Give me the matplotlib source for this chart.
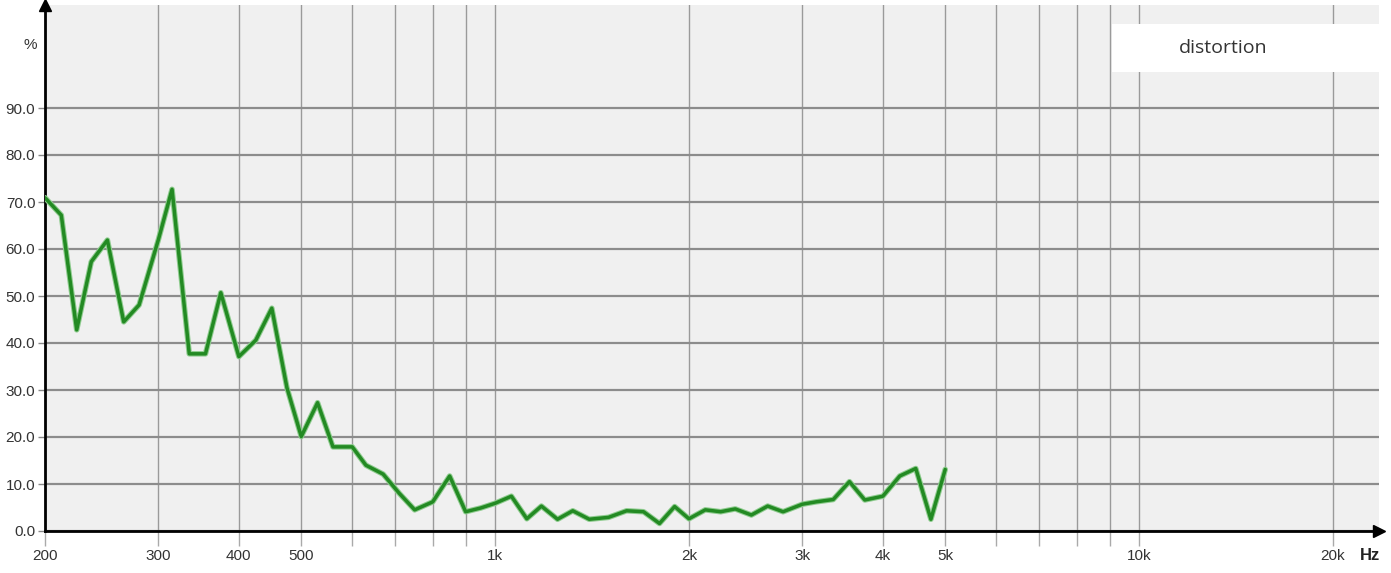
import matplotlib
matplotlib.use("Agg")
import matplotlib.pyplot as plt
from matplotlib.ticker import FixedLocator, FixedFormatter, NullFormatter
from matplotlib.patches import Rectangle

# ---- data ----
freqs = [200, 212, 224, 236, 250, 265, 280, 300, 315, 335, 355, 375, 400, 425, 450,
         475, 500, 530, 560, 600, 630, 670, 710, 750, 800, 850, 900, 950,
         1000, 1060, 1120, 1180, 1250, 1320, 1400, 1500, 1600, 1700, 1800, 1900,
         2000, 2120, 2240, 2360, 2500, 2650, 2800, 3000, 3150, 3350, 3550, 3750,
         4000, 4250, 4500, 4750, 5000]
distortion = [70.9, 67.2, 42.8, 57.3, 61.9, 44.5, 48.1, 62.0, 72.7, 37.7, 37.7, 50.7,
              37.1, 40.6, 47.4, 30.5, 20.1, 27.3, 17.9, 17.9, 14.0, 12.1, 8.0, 4.5,
              6.2, 11.7, 4.1, 4.9, 5.9, 7.4, 2.6, 5.3, 2.5, 4.3, 2.5, 2.9, 4.3, 4.1,
              1.6, 5.2, 2.6, 4.5, 4.1, 4.7, 3.4, 5.3, 4.1, 5.7, 6.2, 6.7, 10.5, 6.6,
              7.4, 11.7, 13.3, 2.5, 13.1]
xtick_vals = [200, 300, 400, 500, 1000, 2000, 3000, 4000, 5000, 10000, 20000]
xtick_labels = ["200", "300", "400", "500", "1k", "2k", "3k", "4k", "5k", "10k", "20k"]
xminor_vals = [600, 700, 800, 900, 6000, 7000, 8000, 9000]
ytick_vals = [0, 10, 20, 30, 40, 50, 60, 70, 80, 90]
ytick_labels = ["%.1f" % v for v in ytick_vals]
series_name = "distortion"

W, H = 1391, 573
fig = plt.figure(figsize=(W / 100, H / 100), dpi=100)
fig.patch.set_facecolor("white")

left, right, bottom, top = 45, 1379, 531, 5
ax = fig.add_axes([left / W, 1 - bottom / H, (right - left) / W, (bottom - top) / H])
ax.set_facecolor("#f0f0f0")
ax.set_xscale("log")
ax.set_xlim(200, 23580)
ax.set_ylim(0, (bottom - top) / 4.7)

narrow = ["Liberation Sans", "DejaVu Sans"]

ax.xaxis.set_major_locator(FixedLocator(xtick_vals))
ax.xaxis.set_major_formatter(FixedFormatter(xtick_labels))
ax.xaxis.set_minor_locator(FixedLocator(xminor_vals))
ax.xaxis.set_minor_formatter(NullFormatter())
ax.yaxis.set_major_locator(FixedLocator(ytick_vals))
ax.yaxis.set_major_formatter(FixedFormatter(ytick_labels))
ax.yaxis.set_minor_locator(FixedLocator([]))

ax.grid(True, which="major", axis="x", color="#9a9a9a", linewidth=1.0)
ax.grid(True, which="minor", axis="x", color="#9a9a9a", linewidth=1.0)
ax.grid(True, which="major", axis="y", color="#8c8c8c", linewidth=1.6)
ax.set_axisbelow(True)

ax.tick_params(axis="x", which="both", length=11, width=1, color="#aaaaaa",
               pad=2, labelsize=11, labelcolor="#333333")
ax.tick_params(axis="y", which="both", length=5, width=1, color="#888888",
               pad=2, labelsize=11, labelcolor="#333333")
for lab in ax.get_xticklabels() + ax.get_yticklabels():
    lab.set_family(narrow)

for s in ["top", "right"]:
    ax.spines[s].set_visible(False)
for s in ["left", "bottom"]:
    ax.spines[s].set_color("black")
    ax.spines[s].set_linewidth(2)

# arrows at the axis ends
ax.plot([0], [1], marker="^", color="black", markersize=8, transform=ax.transAxes,
        clip_on=False, zorder=5)
ax.plot([1], [0], marker=">", color="black", markersize=8, transform=ax.transAxes,
        clip_on=False, zorder=5)

# data line with soft halo
ax.plot(freqs, distortion, color="#8fcc8f", linewidth=4.0, solid_joinstyle="round",
        solid_capstyle="round", zorder=3)
ax.plot(freqs, distortion, color="#238a23", linewidth=2.5, solid_joinstyle="round",
        solid_capstyle="round", zorder=4)

# axis unit labels
fig.text(30 / W, 1 - 45 / H, "%", ha="center", va="center", fontsize=11,
         color="#333333", family=narrow)
fig.text(1370 / W, 1 - 556 / H, "Hz", ha="center", va="center", fontsize=12,
         color="#222222", fontweight="bold", family=narrow)

# legend box
fig.patches.append(Rectangle((1112 / W, 1 - 72 / H), (1380 - 1112) / W, 48 / H,
                             transform=fig.transFigure, facecolor="white",
                             edgecolor="none", zorder=10))
fig.text(1223 / W, 1 - 48 / H, series_name, ha="center", va="center", fontsize=14,
         color="#333333", family=["Open Sans", "DejaVu Sans"], zorder=11)

fig.savefig("out.png", dpi=100)
